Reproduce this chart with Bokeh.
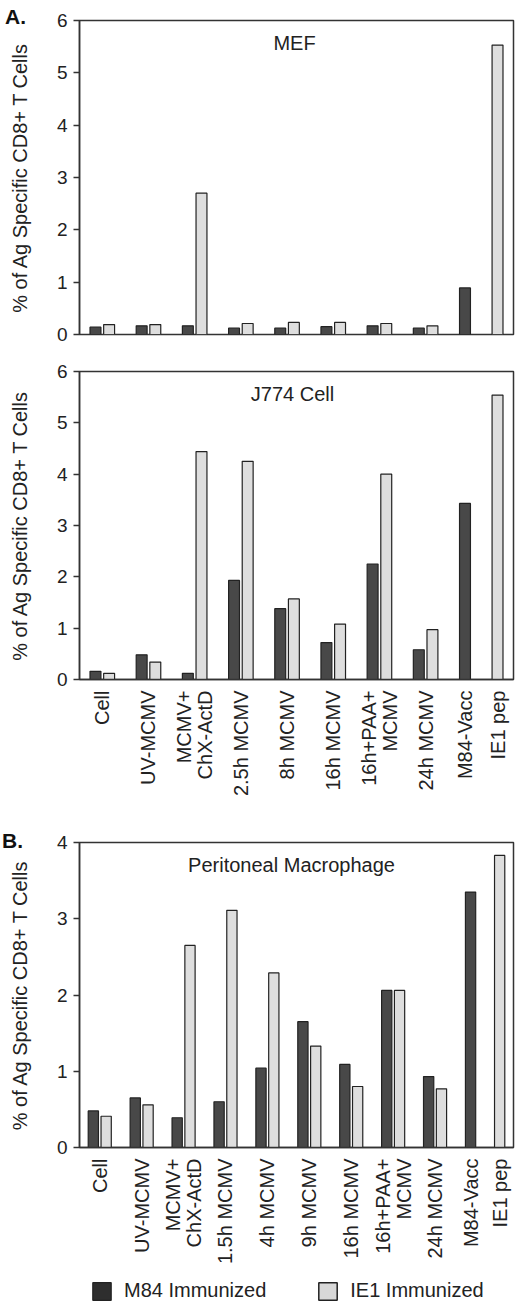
import math
from bokeh.plotting import figure
from bokeh.models import (FactorRange, Range1d, ColumnDataSource, Label, Legend,
                          LegendItem, FixedTicker, Div)
from bokeh.layouts import column
from bokeh.embed import file_html
from bokeh.resources import INLINE

# ---------------- data ----------------
series_names = ["M84 Immunized", "IE1 Immunized"]

cats_a = ["Cell", "UV-MCMV", "MCMV+\nChX-ActD", "2.5h MCMV", "8h MCMV", "16h MCMV",
          "16h+PAA+\nMCMV", "24h MCMV", "M84-Vacc", "IE1 pep"]
mef_m84 = [0.14, 0.165, 0.165, 0.12, 0.12, 0.15, 0.165, 0.12, 0.89, None]
mef_ie1 = [0.19, 0.19, 2.70, 0.21, 0.23, 0.23, 0.21, 0.165, None, 5.53]

j774_m84 = [0.16, 0.48, 0.12, 1.93, 1.38, 0.72, 2.25, 0.58, 3.43, None]
j774_ie1 = [0.12, 0.34, 4.44, 4.25, 1.57, 1.08, 4.00, 0.97, None, 5.54]

cats_b = ["Cell", "UV-MCMV", "MCMV+\nChX-ActD", "1.5h MCMV", "4h MCMV", "9h MCMV",
          "16h MCMV", "16h+PAA+\nMCMV", "24h MCMV", "M84-Vacc", "IE1 pep"]
pm_m84 = [0.48, 0.65, 0.39, 0.60, 1.04, 1.65, 1.09, 2.06, 0.93, 3.35, None]
pm_ie1 = [0.41, 0.56, 2.65, 3.11, 2.29, 1.33, 0.80, 2.06, 0.77, None, 3.83]

y_ticks_a = [0, 1, 2, 3, 4, 5, 6]
y_ticks_b = [0, 1, 2, 3, 4]

y_label = "% of Ag Specific CD8+ T Cells"

# ---------------- style ----------------
FONT = "Liberation Sans"
DARK = "#484848"
LIGHT = "#dedede"
EDGE = "#222222"
AXC = "#333333"
TXT = "#222222"
LEFT = 79        # common left border (frames aligned in the column)
FRAME_W = 434
RIGHT = 6


def series_points(cats, m84, ie1):
    factors, m_x, m_top, i_x, i_top = [], [], [], [], []
    for c, a, b in zip(cats, m84, ie1):
        if a is not None:
            factors.append((c, "M84"))
            m_x.append((c, "M84"))
            m_top.append(a)
        if b is not None:
            factors.append((c, "IE1"))
            i_x.append((c, "IE1"))
            i_top.append(b)
    return factors, m_x, m_top, i_x, i_top


def make_panel(cats, m84, ie1, yticks, title, frame_h, top, bottom, gpad, rpad,
               show_x, lab_standoff, title_x):
    factors, m_x, m_top, i_x, i_top = series_points(cats, m84, ie1)
    xr = FactorRange(factors=factors, factor_padding=0, group_padding=gpad,
                     range_padding=rpad, range_padding_units="absolute")
    p = figure(x_range=xr, y_range=Range1d(yticks[0], yticks[-1]),
               frame_width=FRAME_W, frame_height=frame_h,
               min_border_left=LEFT, min_border_right=RIGHT,
               min_border_top=top, min_border_bottom=bottom,
               output_backend="svg", toolbar_location=None)
    p.background_fill_color = "white"
    p.border_fill_color = "white"
    p.outline_line_color = AXC
    p.outline_line_width = 1.5
    p.xgrid.visible = False
    p.ygrid.visible = False

    p.vbar(x="x", top="top", width=0.8,
           source=ColumnDataSource(dict(x=m_x, top=m_top)),
           fill_color=DARK, line_color=EDGE, line_width=1.2)
    p.vbar(x="x", top="top", width=0.8,
           source=ColumnDataSource(dict(x=i_x, top=i_top)),
           fill_color=LIGHT, line_color=EDGE, line_width=1.2)

    ya = p.yaxis[0]
    ya.ticker = FixedTicker(ticks=yticks)
    ya.minor_tick_line_color = None
    ya.major_tick_out = 6
    ya.major_tick_in = 0
    ya.major_tick_line_color = AXC
    ya.major_tick_line_width = 1.5
    ya.axis_line_color = AXC
    ya.axis_line_width = 1.5
    ya.major_label_text_font = FONT
    ya.major_label_text_font_size = "19px"
    ya.major_label_text_color = TXT
    ya.major_label_standoff = 6
    ya.axis_label = y_label
    ya.axis_label_text_font = FONT
    ya.axis_label_text_font_size = "20px"
    ya.axis_label_text_font_style = "normal"
    ya.axis_label_text_color = TXT
    ya.axis_label_standoff = lab_standoff

    xa = p.xaxis[0]
    if show_x:
        xa.axis_line_color = AXC
        xa.axis_line_width = 1.5
        xa.major_tick_line_color = None
        xa.minor_tick_line_color = None
        xa.major_label_text_font_size = "1px"
        xa.major_label_text_color = None
        xa.major_label_standoff = 5
        xa.separator_line_alpha = 0
        xa.group_text_font = FONT
        xa.group_text_font_size = "20px"
        xa.group_text_font_style = "normal"
        xa.group_text_color = TXT
        xa.group_text_line_height = 0.95
        xa.group_label_orientation = math.pi / 2
    else:
        xa.visible = False

    p.add_layout(Label(x=title_x, y=frame_h - 22, x_units="screen", y_units="screen",
                       text=title, text_align="center", text_baseline="alphabetic",
                       text_font=FONT, text_font_size="20px", text_color=TXT))
    return p


pA = make_panel(cats_a, mef_m84, mef_ie1, y_ticks_a, "MEF", 314, 20, 18,
                1.385, 0.67, False, 23, 215)
pJ = make_panel(cats_a, j774_m84, j774_ie1, y_ticks_a, "J774 Cell", 308, 19, 126,
                1.385, 0.67, True, 23, 213)
pB = make_panel(cats_b, pm_m84, pm_ie1, y_ticks_b, "Peritoneal Macrophage", 305, 37, 123,
                1.27, 0.58, True, 23, 212)

# ---------------- legend strip ----------------
# The strip's renderers carry series B as zero-width bars far outside the visible
# y range, so only the legend swatches show.
factors_l, lm_x, lm_top, li_x, li_top = series_points(cats_b, pm_m84, pm_ie1)
pL = figure(frame_width=FRAME_W, height=36, x_range=FactorRange(factors=factors_l),
            y_range=Range1d(100, 101), min_border_left=LEFT, min_border_right=RIGHT,
            min_border_top=0, min_border_bottom=0, x_axis_location=None,
            y_axis_location=None, output_backend="svg", toolbar_location=None)
pL.outline_line_color = None
pL.xgrid.visible = False
pL.ygrid.visible = False
rl1 = pL.vbar(x="x", top="top", width=0, source=ColumnDataSource(dict(x=lm_x, top=lm_top)),
              fill_color="#2e2e2e", line_color=EDGE, line_width=1.2)
rl2 = pL.vbar(x="x", top="top", width=0, source=ColumnDataSource(dict(x=li_x, top=li_top)),
              fill_color="#d8d8d8", line_color=EDGE, line_width=1.5)
legend = Legend(items=[LegendItem(label=series_names[0], renderers=[rl1]),
                       LegendItem(label=series_names[1], renderers=[rl2])],
                orientation="horizontal", location=(11, 4), margin=0, padding=0,
                spacing=50, glyph_width=23, glyph_height=22, label_standoff=11,
                label_height=22, label_text_font=FONT, label_text_font_size="20px",
                label_text_color=TXT, border_line_color=None,
                background_fill_alpha=0)
pL.add_layout(legend)

# ---------------- panel letters ----------------
letter_style = {"position": "absolute", "font-family": "Liberation Sans",
                "font-size": "21px", "font-weight": "bold", "color": "#111111",
                "line-height": "normal", "margin": "0", "padding": "0"}
divA = Div(text="A.", styles=dict(letter_style, left="5px", top="5px"))
divB = Div(text="B.", styles=dict(letter_style, left="2px", top="829px"))

layout = column(pA, pJ, pB, pL, divA, divB, spacing=0)
open("out.html", "w").write(file_html(layout, INLINE))
